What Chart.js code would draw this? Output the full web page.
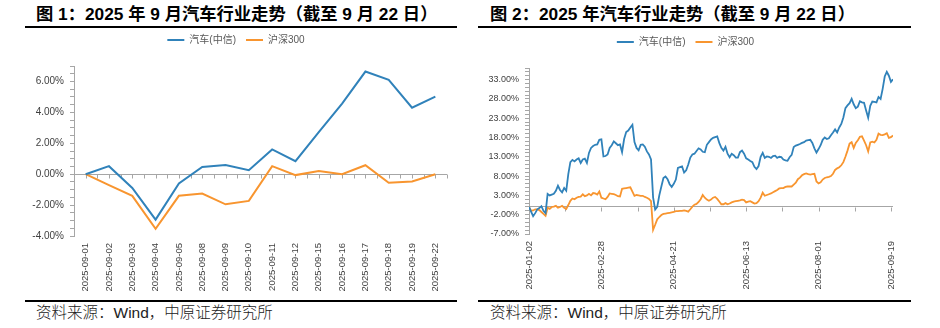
<!DOCTYPE html>
<html lang="zh-CN">
<head>
<meta charset="utf-8">
<title>2025 年汽车行业走势</title>
<script src="https://cdn.jsdelivr.net/npm/chart.js@4.4.1/dist/chart.umd.min.js"></script>
<style>
  html, body { margin: 0; padding: 0; background: #fff; }
  body {
    width: 940px; height: 328px; position: relative; overflow: hidden;
    font-family: "Liberation Sans", "Noto Sans CJK SC", sans-serif;
  }
  .title {
    position: absolute; top: 3px; line-height: 22px;
    font-size: 17.3px; font-weight: 700; color: #000; white-space: nowrap;
  }
  .rule { position: absolute; height: 2px; background: #000; }
  .source {
    position: absolute; top: 302px; line-height: 22px;
    font-size: 15.5px; font-weight: 300; color: #222; white-space: nowrap;
  }
  canvas { position: absolute; }
</style>
</head>
<body>
  <div class="title" style="left:36px">图 1：2025 年 9 月汽车行业走势（截至 9 月 22 日）</div>
  <div class="rule" style="left:25px; top:26px; width:432px"></div>
  <canvas id="sepChart" width="432" height="273" style="left:25px; top:25px"></canvas>
  <div class="rule" style="left:25px; top:300px; width:432px"></div>
  <div class="source" style="left:36px">资料来源：Wind，中原证券研究所</div>

  <div class="title" style="left:490px">图 2：2025 年汽车行业走势（截至 9 月 22 日）</div>
  <div class="rule" style="left:478px; top:26px; width:433px"></div>
  <canvas id="ytdChart" width="433" height="271" style="left:478px; top:27px"></canvas>
  <div class="rule" style="left:478px; top:300px; width:433px"></div>
  <div class="source" style="left:490px">资料来源：Wind，中原证券研究所</div>

<script>
// 9 月逐日累计涨跌幅（%）
const sepDates = ['2025-09-01', '2025-09-02', '2025-09-03', '2025-09-04', '2025-09-05',
  '2025-09-08', '2025-09-09', '2025-09-10', '2025-09-11', '2025-09-12', '2025-09-15',
  '2025-09-16', '2025-09-17', '2025-09-18', '2025-09-19', '2025-09-22'];
const sepAuto = [0, 0.52, -0.89, -2.94, -0.6, 0.47, 0.6, 0.26, 1.6, 0.84, 2.72, 4.57, 6.64, 6.1, 4.3, 5.02];
const sepHs300 = [0, -0.71, -1.4, -3.53, -1.4, -1.25, -1.95, -1.73, 0.52, -0.06, 0.21, 0.0, 0.58, -0.56, -0.47, 0.0];

// 年初至今累计涨跌幅（%），每个交易日一个值
const ytdAuto = [
  0, -1.2, -2.4, -1.6, -0.6, -0.3, 0.2, -1.0, -1.6, 3.4,
  3.0, 3.2, 3.4, 4.2, 5.5, 4.4, 3.8, 4.9, 4.2, 8.5,
  11.6, 12.2, 11.8, 12.3, 12.6, 11.4, 12.3, 12.5, 11.4, 14.0,
  15.3, 15.8, 16.1, 16.2, 17.4, 17.5, 13.1, 13.2, 13.6, 15.3,
  16.0, 17.0, 16.5, 16.0, 16.2, 14.2, 17.6, 19.4, 19.8, 20.6,
  21.3, 16.8, 15.3, 14.7, 16.1, 16.2, 15.6, 14.4, 13.6, 12.3,
  2.5, -0.7, 0.0, 3.0, 5.3, 7.5, 7.9, 7.2, 5.9, 5.2,
  6.0, 7.1, 10.1, 10.3, 10.5, 8.9, 9.5, 11.0, 12.8, 13.6,
  13.8, 14.5, 15.2, 14.9, 14.3, 14.2, 16.1, 16.8, 17.5, 17.9,
  18.1, 18.3, 16.6, 15.3, 14.6, 15.6, 13.8, 12.9, 13.8, 13.4,
  12.8, 12.8, 14.2, 14.6, 13.8, 12.6, 12.3, 11.9, 11.6, 10.4,
  9.8, 10.6, 13.0, 14.0, 12.7, 13.1, 13.0, 12.7, 13.2, 13.3,
  12.7, 13.0, 12.9, 12.3, 12.1, 12.0, 12.9, 13.5, 15.5, 15.9,
  16.1, 16.3, 16.6, 16.8, 17.2, 17.3, 17.4, 16.6, 15.2, 14.1,
  15.0, 16.0, 17.4, 18.0, 17.6, 17.8, 18.6, 19.3, 20.1, 19.3,
  20.6, 21.5, 23.2, 25.6, 26.3, 26.9, 28.0, 26.6, 25.6, 26.0,
  27.4, 27.1, 27.0, 25.0, 23.1, 26.2, 27.3, 27.2, 27.1, 28.5,
  28.0, 30.6, 33.8, 35.0, 34.0, 32.4, 33.1
];
const ytdHs300 = [
  0, -1.0, -0.9, -0.6, -0.6, -0.8, -1.3, -1.8, -2.3, -0.2,
  -0.5, 0.0, 0.1, 0.3, -0.2, 0.0, 0.3, -0.2, -0.5, 0.5,
  1.6, 2.2, 2.0, 2.4, 2.6, 2.7, 3.3, 2.8, 3.0, 3.4,
  3.0, 3.6, 3.5, 3.2, 4.0, 2.4, 2.2, 2.0, 2.6, 3.5,
  3.4, 3.3, 3.1, 2.8, 2.7, 4.7, 4.8, 4.9, 5.0, 5.1,
  4.0, 2.9, 3.1, 3.0, 2.9, 2.9, 2.6, 2.4, 2.1, 1.5,
  -5.9, -4.6, -3.2, -2.6, -2.1, -1.8, -1.7, -1.6, -1.5, -1.4,
  -1.3, -1.1, -1.1, -1.0, -1.0, -0.9, -1.0, -1.2, -0.6, 0.1,
  0.6, 0.8, 1.3, 2.0, 3.1, 2.4, 1.9, 1.6, 1.9, 2.4,
  2.6, 2.1, 1.4, 0.7, 0.7, 1.0, 0.7, 0.9, 1.2, 1.4,
  1.5, 1.6, 1.7, 1.9, 1.8, 1.2, 1.4, 1.5, 1.2, 0.9,
  1.0, 1.5, 2.4, 3.7, 2.9, 3.1, 3.3, 3.5, 3.8, 4.1,
  4.4, 4.8, 4.9, 4.9, 5.2, 5.3, 5.3, 5.3, 5.8, 6.3,
  7.2, 7.6, 8.2, 8.5, 8.7, 8.5, 8.4, 8.5, 8.6, 6.6,
  6.1, 6.4, 7.1, 7.5, 7.7, 7.8, 8.0, 8.6, 9.6, 10.0,
  10.3, 10.8, 11.6, 13.0, 14.6, 16.4, 16.8, 15.3, 16.6, 17.3,
  18.2, 18.3, 17.2, 16.0, 14.4, 16.7, 16.9, 16.7, 17.4, 19.0,
  18.7, 18.6, 18.8, 19.1, 17.9, 18.1, 18.5
];
// 横轴只标出这几个交易日（序号对应上面数组的位置）
const ytdTickIndex = [0, 35, 70, 105, 140, 175];
const ytdTickLabels = ['2025-01-02', '2025-02-28', '2025-04-21', '2025-06-13', '2025-08-01', '2025-09-19'];

const BLUE = '#3082ba';
const ORANGE = '#f8952f';
const AXIS = '#a6a6a6';
const TEXT = '#3f3f3f';

Chart.defaults.font.family = '"Liberation Sans", "Noto Sans CJK SC", sans-serif';
Chart.defaults.color = TEXT;

// leaves extra space between the legend row and the plot
const legendGap = {
    id: 'legendGap',
    beforeLayout(chart, args, opts) {
        const legend = chart.legend;
        if (!legend || legend.$gapFit) {
            return;
        }
        const fit = legend.fit;
        legend.fit = function () {
            fit.call(this);
            this.height += opts.gap || 0;
        };
        legend.$gapFit = true;
    }
};

// small tick marks hanging below the 0% line
const zeroTicks = {
    id: 'zeroTicks',
    beforeDatasetsDraw(chart, args, opts) {
        const xs = chart.scales.x;
        const y0 = Math.round(chart.scales.y.getPixelForValue(0)) + 0.5;
        const ctx = chart.ctx;
        ctx.save();
        ctx.strokeStyle = AXIS;
        ctx.lineWidth = 1;
        ctx.beginPath();
        for (const v of opts.marks || []) {
            const px = Math.round(xs.getPixelForValue(v)) + 0.5;
            ctx.moveTo(px, y0);
            ctx.lineTo(px, y0 + 4);
        }
        ctx.stroke();
        ctx.restore();
    }
};

function legendOptions(padding) {
    return {
        display: true,
        position: 'top',
        labels: {
            boxWidth: 17,
            boxHeight: 2,
            padding: padding,
            color: '#595959',
            font: { size: 10 },
            generateLabels(chart) {
                return Chart.defaults.plugins.legend.labels.generateLabels(chart)
                    .map((item) => Object.assign(item, { lineWidth: 0 }));
            }
        }
    };
}

// percent axis with unlabeled minor ticks between the labeled ones
function percentAxis(min, max, minor, major, width, size) {
    return {
        min: min,
        max: max,
        afterBuildTicks(scale) {
            const ticks = [];
            const n = Math.round((max - min) / minor);
            for (let k = 0; k <= n; k++) {
                ticks.push({ value: min + k * minor });
            }
            scale.ticks = ticks;
        },
        afterFit(scale) {
            scale.width = width;
        },
        grid: {
            drawTicks: true,
            tickLength: 4,
            tickColor: AXIS,
            color: (c) => (c.tick && c.tick.value === 0 ? AXIS : 'rgba(0,0,0,0)')
        },
        border: { display: true, color: AXIS },
        ticks: {
            autoSkip: false,
            padding: 6,
            color: TEXT,
            font: { size: size },
            callback(v) {
                const r = (v - min) / major;
                return Math.abs(r - Math.round(r)) < 1e-6 ? v.toFixed(2) + '%' : '';
            }
        }
    };
}

function lineSet(label, data, color, width) {
    return {
        label: label,
        data: data,
        borderColor: color,
        backgroundColor: color,
        borderWidth: width,
        pointRadius: 0,
        tension: 0,
        fill: false
    };
}

// 图 1：9 月逐日
const sepMarks = [];
for (let k = 1; k <= sepDates.length * 2; k++) {
    sepMarks.push(k / 2 - 0.5);
}

new Chart(document.getElementById('sepChart'), {
    type: 'line',
    data: {
        labels: sepDates,
        datasets: [
            lineSet('汽车(中信)', sepAuto, BLUE, 2),
            lineSet('沪深300', sepHs300, ORANGE, 2)
        ]
    },
    options: {
        responsive: false,
        animation: false,
        events: [],
        layout: { padding: { left: 0, right: 10, top: 0, bottom: 0 } },
        plugins: {
            legend: legendOptions(10),
            tooltip: { enabled: false },
            legendGap: { gap: 11 },
            zeroTicks: { marks: sepMarks }
        },
        scales: {
            x: {
                type: 'category',
                offset: true,
                grid: { display: false, drawTicks: false },
                border: { display: false },
                afterFit(scale) {
                    scale.height = 62;
                },
                ticks: {
                    autoSkip: false,
                    minRotation: 90,
                    maxRotation: 90,
                    padding: 7,
                    color: TEXT,
                    font: { size: 9.5 }
                }
            },
            y: percentAxis(-4, 7, 0.5, 2, 49, 10)
        }
    },
    plugins: [legendGap, zeroTicks]
});

// 图 2：年初至今
const ytdMarks = [];
for (let k = 1; k <= 10; k++) {
    ytdMarks.push(k * 17.5);
}

new Chart(document.getElementById('ytdChart'), {
    type: 'line',
    data: {
        datasets: [
            lineSet('汽车(中信)', ytdAuto.map((v, i) => ({ x: i, y: v })), BLUE, 1.8),
            lineSet('沪深300', ytdHs300.map((v, i) => ({ x: i, y: v })), ORANGE, 1.8)
        ]
    },
    options: {
        responsive: false,
        animation: false,
        events: [],
        layout: { padding: { left: 0, right: 18, top: 0, bottom: 0 } },
        plugins: {
            legend: legendOptions(10),
            tooltip: { enabled: false },
            legendGap: { gap: 11 },
            zeroTicks: { marks: ytdMarks }
        },
        scales: {
            x: {
                type: 'linear',
                min: 0,
                max: ytdAuto.length - 1,
                afterBuildTicks(scale) {
                    scale.ticks = ytdTickIndex.map((v) => ({ value: v }));
                },
                afterFit(scale) {
                    scale.height = 64;
                },
                grid: { display: false, drawTicks: false },
                border: { display: false },
                ticks: {
                    autoSkip: false,
                    minRotation: 90,
                    maxRotation: 90,
                    padding: 7,
                    color: TEXT,
                    font: { size: 9.5 },
                    callback(v) {
                        const at = ytdTickIndex.indexOf(v);
                        return at >= 0 ? ytdTickLabels[at] : '';
                    }
                }
            },
            y: percentAxis(-7, 36, 1, 5, 51, 9)
        }
    },
    plugins: [legendGap, zeroTicks]
});
</script>
</body>
</html>
